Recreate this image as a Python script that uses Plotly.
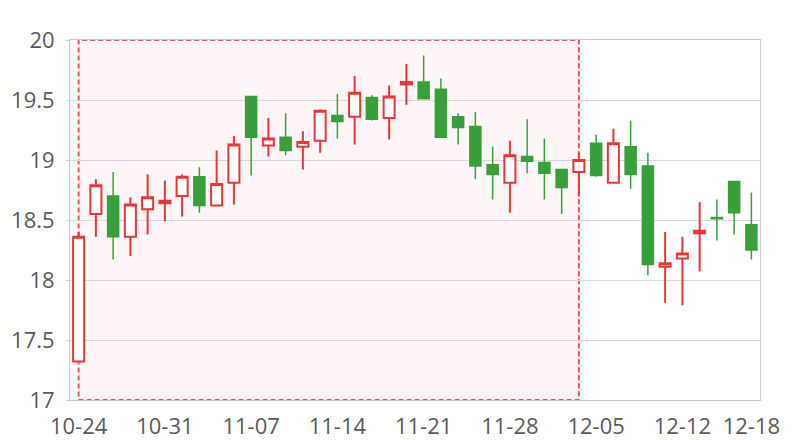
import plotly.graph_objects as go

dates = ["10-24", "10-25", "10-26", "10-27", "10-28",
         "10-31", "11-01", "11-02", "11-03", "11-04",
         "11-07", "11-08", "11-09", "11-10", "11-11",
         "11-14", "11-15", "11-16", "11-17", "11-18",
         "11-21", "11-22", "11-23", "11-24", "11-25",
         "11-28", "11-29", "11-30", "12-01", "12-02",
         "12-05", "12-06", "12-07", "12-08", "12-09",
         "12-12", "12-13", "12-14", "12-15", "12-18"]

open_ = [17.32, 18.55, 18.70, 18.36, 18.59, 18.64, 18.70, 18.86, 18.62, 18.81,
         19.53, 19.12, 19.19, 19.11, 19.16, 19.37, 19.36, 19.52, 19.35, 19.63,
         19.65, 19.59, 19.36, 19.28, 18.96, 18.81, 19.03, 18.98, 18.92, 18.90,
         19.14, 18.81, 19.11, 18.95, 18.11, 18.18, 18.39, 18.52, 18.82, 18.46]
close = [18.36, 18.79, 18.36, 18.63, 18.69, 18.66, 18.86, 18.62, 18.80, 19.13,
         19.19, 19.18, 19.08, 19.15, 19.41, 19.32, 19.56, 19.34, 19.53, 19.65,
         19.51, 19.19, 19.27, 18.95, 18.88, 19.04, 18.99, 18.89, 18.77, 19.00,
         18.87, 19.14, 18.88, 18.13, 18.14, 18.22, 18.41, 18.51, 18.56, 18.25]
high = [18.40, 18.84, 18.90, 18.69, 18.88, 18.83, 18.88, 18.94, 19.08, 19.20,
        19.53, 19.35, 19.39, 19.24, 19.42, 19.55, 19.70, 19.54, 19.62, 19.80,
        19.87, 19.68, 19.39, 19.40, 19.11, 19.16, 19.34, 19.18, 18.92, 19.06,
        19.21, 19.26, 19.33, 19.06, 18.40, 18.36, 18.65, 18.67, 18.82, 18.73]
low = [17.31, 18.36, 18.17, 18.20, 18.38, 18.49, 18.53, 18.56, 18.62, 18.63,
       18.87, 19.03, 19.04, 18.92, 19.06, 19.18, 19.13, 19.33, 19.17, 19.46,
       19.51, 19.19, 19.13, 18.84, 18.67, 18.56, 18.89, 18.67, 18.55, 18.70,
       18.86, 18.81, 18.76, 18.04, 17.81, 17.79, 18.07, 18.33, 18.38, 18.17]

tick_dates = ["10-24", "10-31", "11-07", "11-14", "11-21", "11-28", "12-05", "12-12", "12-18"]
y_ticks = [17, 17.5, 18, 18.5, 19, 19.5, 20]
area_start, area_end = "10-24", "12-02"

RED = "#e8373a"
GREEN = "#38a03a"
TEXT = "#5a5a5a"
FONT = "Open Sans, Noto Sans, sans-serif"

fig = go.Figure()
fig.add_trace(go.Candlestick(
    x=dates, open=open_, high=high, low=low, close=close,
    increasing=dict(line=dict(color=RED, width=2), fillcolor="#ffffff"),
    decreasing=dict(line=dict(color=GREEN, width=1.5), fillcolor=GREEN),
    whiskerwidth=0, showlegend=False, hoverinfo="skip",
))

fig.add_shape(type="rect", xref="x", yref="y",
              x0=area_start, x1=area_end, y0=y_ticks[0], y1=y_ticks[-1],
              fillcolor="rgba(240,80,80,0.05)",
              line=dict(color="#f25555", width=2, dash="5px,3px"),
              layer="below")

# page body has an 8px default margin, so offset the plot margins accordingly
fig.update_layout(
    width=800, height=440,
    margin=dict(l=62, r=48, t=32, b=48, autoexpand=False),
    paper_bgcolor="white", plot_bgcolor="white",
    font=dict(family=FONT, color=TEXT),
    boxgap=0.2, boxgroupgap=0.2,
)
fig.update_xaxes(
    type="category", categoryorder="array", categoryarray=dates,
    tickmode="array", tickvals=tick_dates, ticktext=tick_dates,
    rangeslider_visible=False, showgrid=False, automargin=False,
    showline=True, linecolor="#cccccc", linewidth=1, mirror=True,
    ticks="", ticklabelstandoff=7,
    tickfont=dict(size=22, color=TEXT, family=FONT),
)
fig.update_yaxes(
    range=[y_ticks[0], y_ticks[-1]], tickvals=y_ticks,
    ticktext=[f"{v:g}" for v in y_ticks], automargin=False,
    showgrid=True, gridcolor="#d9d9d9", gridwidth=1,
    showline=True, linecolor="#cccccc", linewidth=1, mirror=True,
    ticks="outside", ticklen=3, tickcolor="#cccccc",
    ticklabelstandoff=7,
    tickfont=dict(size=22, color=TEXT, family=FONT), zeroline=False,
)

fig.write_html("out.html")
